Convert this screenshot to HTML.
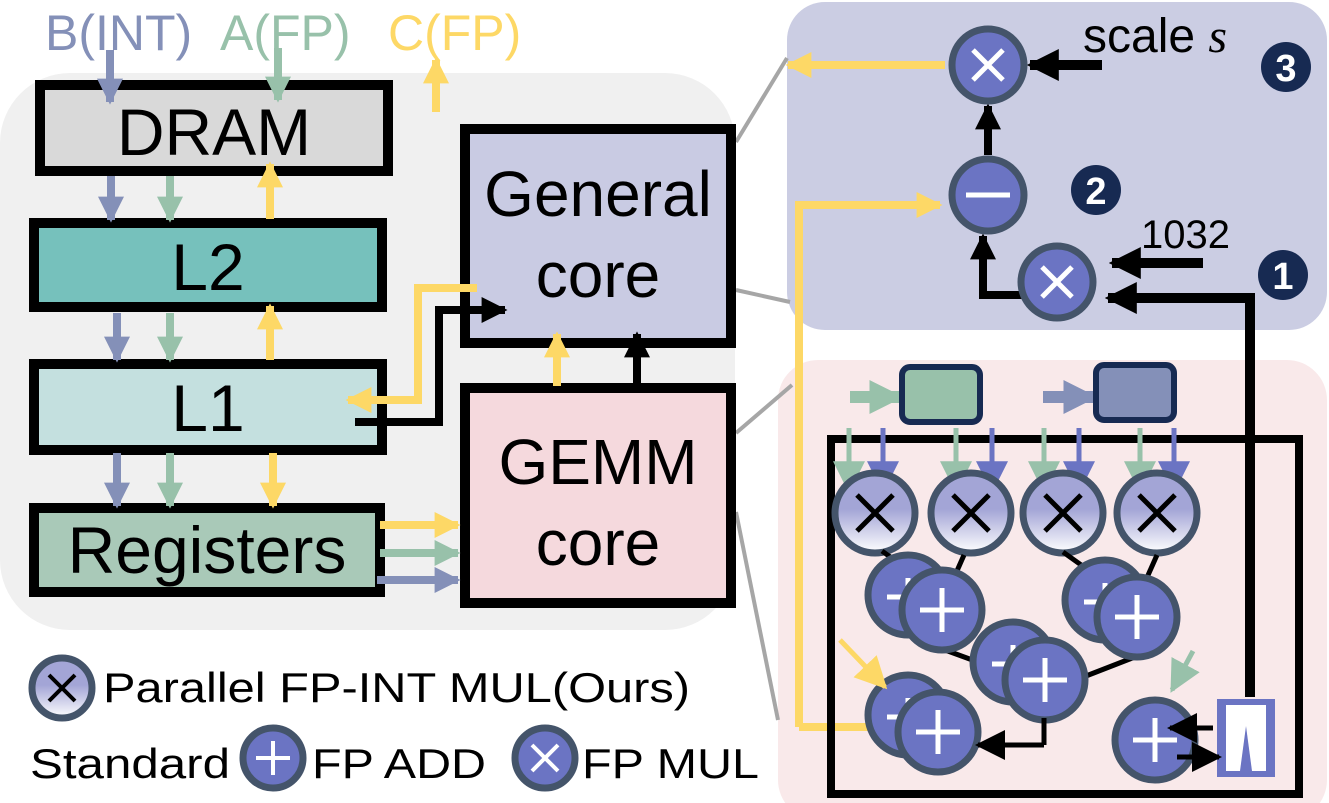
<!DOCTYPE html>
<html><head><meta charset="utf-8"><style>html,body{margin:0;padding:0;background:#fff}svg{display:block}text{font-family:"Liberation Sans",sans-serif}</style></head><body>
<svg width="1329" height="803" viewBox="0 0 1329 803" xmlns="http://www.w3.org/2000/svg">
<defs>
<linearGradient id="pg" x1="0" y1="0" x2="0" y2="1"><stop offset="0" stop-color="#a3a5d6"/><stop offset="0.45" stop-color="#a3a5d6"/><stop offset="1" stop-color="#ffffff"/></linearGradient>
<marker id="ab" viewBox="0 0 10 10" refX="9" refY="5" markerUnits="userSpaceOnUse" markerWidth="26" markerHeight="26" orient="auto"><path d="M0,0L10,5L0,10z" fill="#000"/></marker>
<marker id="abL" viewBox="0 0 10 10" refX="9" refY="5" markerUnits="userSpaceOnUse" markerWidth="32" markerHeight="32" orient="auto"><path d="M0,0L10,5L0,10z" fill="#000"/></marker>
<marker id="ay" viewBox="0 0 10 10" refX="9" refY="5" markerUnits="userSpaceOnUse" markerWidth="26" markerHeight="26" orient="auto"><path d="M0,0L10,5L0,10z" fill="#fdd866"/></marker>
<marker id="ag" viewBox="0 0 10 10" refX="9" refY="5" markerUnits="userSpaceOnUse" markerWidth="26" markerHeight="26" orient="auto"><path d="M0,0L10,5L0,10z" fill="#98c1aa"/></marker>
<marker id="au" viewBox="0 0 10 10" refX="9" refY="5" markerUnits="userSpaceOnUse" markerWidth="26" markerHeight="26" orient="auto"><path d="M0,0L10,5L0,10z" fill="#8490b8"/></marker>
<marker id="agB" viewBox="0 0 10 10" refX="9" refY="5" markerUnits="userSpaceOnUse" markerWidth="34" markerHeight="34" orient="auto"><path d="M0,0L10,5L0,10z" fill="#98c1aa"/></marker>
<marker id="auB" viewBox="0 0 10 10" refX="9" refY="5" markerUnits="userSpaceOnUse" markerWidth="34" markerHeight="34" orient="auto"><path d="M0,0L10,5L0,10z" fill="#8490b8"/></marker>
<marker id="avB" viewBox="0 0 10 10" refX="9" refY="5" markerUnits="userSpaceOnUse" markerWidth="32" markerHeight="32" orient="auto"><path d="M0,0L10,5L0,10z" fill="#6b74c3"/></marker>
<marker id="agM" viewBox="0 0 10 10" refX="9" refY="5" markerUnits="userSpaceOnUse" markerWidth="32" markerHeight="32" orient="auto"><path d="M0,0L10,5L0,10z" fill="#98c1aa"/></marker>
<marker id="ayM" viewBox="0 0 10 10" refX="9" refY="5" markerUnits="userSpaceOnUse" markerWidth="32" markerHeight="32" orient="auto"><path d="M0,0L10,5L0,10z" fill="#fdd866"/></marker>
<marker id="abM" viewBox="0 0 10 10" refX="9" refY="5" markerUnits="userSpaceOnUse" markerWidth="30" markerHeight="30" orient="auto"><path d="M0,0L10,5L0,10z" fill="#000"/></marker>
</defs>
<rect x="0" y="73" width="735" height="557" rx="70" fill="#f0f0f0"/>
<rect x="787" y="2" width="540" height="328" rx="38" fill="#cbcde3"/>
<rect x="778" y="360" width="549" height="460" rx="40" fill="#f9e9ea"/>
<g stroke="#a6a6a6" stroke-width="4" fill="none">
<line x1="736" y1="142" x2="787" y2="58"/>
<line x1="736" y1="290" x2="790" y2="302"/>
<line x1="736" y1="433" x2="792" y2="385"/>
<line x1="736" y1="512" x2="778" y2="720"/>
</g>
<text x="45" y="50" font-size="50" fill="#8490b8">B(INT)</text>
<text x="220" y="50" font-size="50" fill="#98c1aa">A(FP)</text>
<text x="388" y="50" font-size="50" fill="#fdd866">C(FP)</text>
<rect x="40" y="85" width="348" height="86" fill="#d9d9d9" stroke="#000" stroke-width="10"/>
<text x="214" y="155" font-size="66" text-anchor="middle">DRAM</text>
<rect x="34" y="223" width="348" height="84" fill="#76c1bc" stroke="#000" stroke-width="10"/>
<text x="208" y="290" font-size="66" text-anchor="middle">L2</text>
<rect x="34" y="364" width="348" height="86" fill="#c4e0df" stroke="#000" stroke-width="10"/>
<text x="208" y="431" font-size="66" text-anchor="middle">L1</text>
<rect x="34" y="508" width="346" height="84" fill="#a9c9b8" stroke="#000" stroke-width="10"/>
<text x="207" y="573" font-size="66" text-anchor="middle">Registers</text>
<rect x="465" y="129" width="266" height="214" fill="#c9cbe3" stroke="#000" stroke-width="10"/>
<text x="598" y="216" font-size="64" text-anchor="middle">General</text>
<text x="598" y="297" font-size="64" text-anchor="middle">core</text>
<rect x="465" y="388" width="266" height="215" fill="#f5d9dd" stroke="#000" stroke-width="10"/>
<text x="598" y="484" font-size="64" text-anchor="middle">GEMM</text>
<text x="598" y="565" font-size="64" text-anchor="middle">core</text>
<g stroke-width="8" fill="none">
<line x1="110" y1="50" x2="110" y2="102" stroke="#8490b8" marker-end="url(#au)"/>
<line x1="278" y1="48" x2="278" y2="100" stroke="#98c1aa" marker-end="url(#ag)"/>
<line x1="436" y1="112" x2="436" y2="60" stroke="#fdd866" marker-end="url(#ay)"/>
<line x1="111" y1="176" x2="111" y2="220" stroke="#8490b8" marker-end="url(#au)"/>
<line x1="170" y1="176" x2="170" y2="220" stroke="#98c1aa" marker-end="url(#ag)"/>
<line x1="270" y1="219" x2="270" y2="164" stroke="#fdd866" marker-end="url(#ay)"/>
<line x1="117" y1="313" x2="117" y2="360" stroke="#8490b8" marker-end="url(#au)"/>
<line x1="170" y1="313" x2="170" y2="360" stroke="#98c1aa" marker-end="url(#ag)"/>
<line x1="270" y1="360" x2="270" y2="306" stroke="#fdd866" marker-end="url(#ay)"/>
<line x1="117" y1="453" x2="117" y2="506" stroke="#8490b8" marker-end="url(#au)"/>
<line x1="170" y1="453" x2="170" y2="506" stroke="#98c1aa" marker-end="url(#ag)"/>
<line x1="273" y1="453" x2="273" y2="506" stroke="#fdd866" marker-end="url(#ay)"/>
<line x1="380" y1="525" x2="458" y2="525" stroke="#fdd866" marker-end="url(#ay)"/>
<line x1="380" y1="553" x2="458" y2="553" stroke="#98c1aa" marker-end="url(#ag)"/>
<line x1="377" y1="580" x2="458" y2="580" stroke="#8490b8" marker-end="url(#au)"/>
<line x1="557" y1="386" x2="557" y2="334" stroke="#fdd866" marker-end="url(#ay)"/>
<line x1="637" y1="386" x2="637" y2="334" stroke="#000" marker-end="url(#ab)"/>
<polyline points="477,288 418,288 418,400 348,400" stroke="#fdd866" marker-end="url(#ay)"/>
<polyline points="355,422 439,422 439,310 505,310" stroke="#000" marker-end="url(#ab)"/>
<line x1="945" y1="65" x2="788" y2="65" stroke="#fdd866" marker-end="url(#ay)"/>
<polyline points="799,727 799,205 940,205" stroke="#fdd866" marker-end="url(#ay)"/>
<line x1="799" y1="727" x2="870" y2="727" stroke="#fdd866"/>
<line x1="1102" y1="65" x2="1030" y2="65" stroke="#000" stroke-width="10" marker-end="url(#abL)"/>
<line x1="988" y1="155" x2="988" y2="106" stroke="#000" marker-end="url(#ab)"/>
<polyline points="1025,295 983,295 983,236" stroke="#000" marker-end="url(#ab)"/>
<line x1="1203" y1="263" x2="1112" y2="263" stroke="#000" stroke-width="10" marker-end="url(#abL)"/>
<polyline points="1250,697 1250,298 1108,298" stroke="#000" stroke-width="10" marker-end="url(#abL)"/>
</g>
<text x="1083" y="52" font-size="48">scale <tspan font-family="Liberation Serif" font-style="italic">s</tspan></text>
<text x="1141" y="248" font-size="40">1032</text>
<g stroke="#44546a" stroke-width="7" fill="#6b74c3">
<circle cx="988" cy="65" r="36"/><circle cx="988" cy="195" r="36"/><circle cx="1057" cy="282" r="36"/>
</g>
<g stroke="#fff" stroke-width="5">
<path d="M973,50L1003,80M1003,50L973,80"/><line x1="966" y1="195" x2="1010" y2="195"/><path d="M1042,267L1072,297M1072,267L1042,297"/>
</g>
<g fill="#172a52"><circle cx="1286" cy="67" r="25"/><circle cx="1096" cy="190" r="25"/><circle cx="1283" cy="275" r="25"/></g>
<g fill="#fff" font-size="38" font-weight="bold" text-anchor="middle"><text x="1286" y="81">3</text><text x="1096" y="204">2</text><text x="1283" y="289">1</text></g>
<rect x="831" y="439" width="468" height="355" fill="none" stroke="#000" stroke-width="8"/>
<g stroke-width="12" fill="none">
<line x1="850" y1="397" x2="900" y2="397" stroke="#98c1aa" marker-end="url(#agB)"/>
<line x1="1043" y1="397" x2="1094" y2="397" stroke="#8490b8" marker-end="url(#auB)"/>
</g>
<rect x="902" y="367" width="78" height="55" rx="8" fill="#98c1aa" stroke="#172a52" stroke-width="6"/>
<rect x="1096" y="365" width="78" height="55" rx="8" fill="#8490b8" stroke="#172a52" stroke-width="6"/>
<g stroke-width="5" fill="none">
<line x1="849" y1="428" x2="849" y2="490" stroke="#98c1aa" marker-end="url(#agM)"/>
<line x1="883" y1="428" x2="883" y2="490" stroke="#6b74c3" marker-end="url(#avB)"/>
<line x1="956" y1="428" x2="956" y2="490" stroke="#98c1aa" marker-end="url(#agM)"/>
<line x1="992" y1="428" x2="992" y2="490" stroke="#6b74c3" marker-end="url(#avB)"/>
<line x1="1044" y1="428" x2="1044" y2="490" stroke="#98c1aa" marker-end="url(#agM)"/>
<line x1="1079" y1="428" x2="1079" y2="490" stroke="#6b74c3" marker-end="url(#avB)"/>
<line x1="1140" y1="428" x2="1140" y2="490" stroke="#98c1aa" marker-end="url(#agM)"/>
<line x1="1174" y1="428" x2="1174" y2="490" stroke="#6b74c3" marker-end="url(#avB)"/>
</g>
<g stroke="#44546a" stroke-width="7" fill="url(#pg)">
<circle cx="875" cy="513" r="40"/><circle cx="971" cy="513" r="40"/><circle cx="1063" cy="513" r="40"/><circle cx="1157" cy="513" r="40"/>
</g>
<g stroke="#000" stroke-width="5">
<path d="M857,495L893,531M893,495L857,531"/><path d="M953,495L989,531M989,495L953,531"/><path d="M1045,495L1081,531M1081,495L1045,531"/><path d="M1139,495L1175,531M1175,495L1139,531"/>
</g>
<g stroke="#000" stroke-width="5">
<line x1="882" y1="551" x2="915" y2="575"/><line x1="964" y1="555" x2="945" y2="598"/>
<line x1="1063" y1="552" x2="1105" y2="582"/><line x1="1157" y1="555" x2="1137" y2="600"/>
<line x1="945" y1="650" x2="1008" y2="673"/><line x1="1140" y1="655" x2="1050" y2="690"/>
</g>
<g stroke="#44546a" stroke-width="7" fill="#6b74c3">
<circle cx="908" cy="595" r="40"/><circle cx="1105" cy="600" r="40"/><circle cx="1013" cy="662" r="40"/><circle cx="908" cy="715" r="40"/>
</g>
<g stroke="#fff" stroke-width="5">
<path d="M887,597h18M908,578v12"/><path d="M1084,602h18M1105,583v12"/><path d="M992,664h18M1013,645v12"/><path d="M887,717h18M908,698v12"/>
</g>
<g stroke="#44546a" stroke-width="7" fill="#6b74c3">
<circle cx="942" cy="610" r="40"/><circle cx="1137" cy="617" r="40"/><circle cx="1045" cy="680" r="40"/><circle cx="938" cy="732" r="40"/><circle cx="1155" cy="740" r="40"/>
</g>
<g stroke="#fff" stroke-width="5">
<path d="M920,610h44M942,588v44"/><path d="M1115,617h44M1137,595v44"/><path d="M1023,680h44M1045,658v44"/><path d="M916,732h44M938,710v44"/><path d="M1133,740h44M1155,718v44"/>
</g>
<rect x="1217" y="699" width="58" height="78" fill="#6b74c3"/>
<rect x="1226" y="705" width="40" height="66" fill="#fff"/>
<polygon points="1240,771 1246,726 1252,771" fill="#6b74c3"/>
<g stroke-width="5" fill="none">
<line x1="1044" y1="718" x2="1044" y2="745" stroke="#000"/>
<line x1="1044" y1="745" x2="978" y2="745" stroke="#000" marker-end="url(#abM)"/>
<line x1="1213" y1="728" x2="1170" y2="728" stroke="#000" marker-end="url(#abM)"/>
<line x1="1177" y1="757" x2="1219" y2="757" stroke="#000" marker-end="url(#abM)"/>
<line x1="1193" y1="651" x2="1172" y2="690" stroke="#98c1aa" marker-end="url(#agM)"/>
<line x1="840" y1="640" x2="885" y2="687" stroke="#fdd866" marker-end="url(#ayM)"/>
</g>
<ellipse cx="62" cy="688" rx="30" ry="30" fill="url(#pg)" stroke="#44546a" stroke-width="7"/>
<path d="M49,675L75,701M75,675L49,701" stroke="#000" stroke-width="4"/>
<text x="103" y="702" font-size="42" textLength="587" lengthAdjust="spacingAndGlyphs">Parallel FP-INT MUL(Ours)</text>
<text x="30" y="778" font-size="42" textLength="200" lengthAdjust="spacingAndGlyphs">Standard</text>
<circle cx="273" cy="758" r="30" fill="#6b74c3" stroke="#44546a" stroke-width="7"/>
<path d="M256,758h34M273,741v34" stroke="#fff" stroke-width="4"/>
<text x="312" y="778" font-size="42" textLength="174" lengthAdjust="spacingAndGlyphs">FP ADD</text>
<circle cx="545" cy="758" r="30" fill="#6b74c3" stroke="#44546a" stroke-width="7"/>
<path d="M532,745L558,771M558,745L532,771" stroke="#fff" stroke-width="4"/>
<text x="582" y="778" font-size="42" textLength="177" lengthAdjust="spacingAndGlyphs">FP MUL</text>
</svg>
</body></html>
